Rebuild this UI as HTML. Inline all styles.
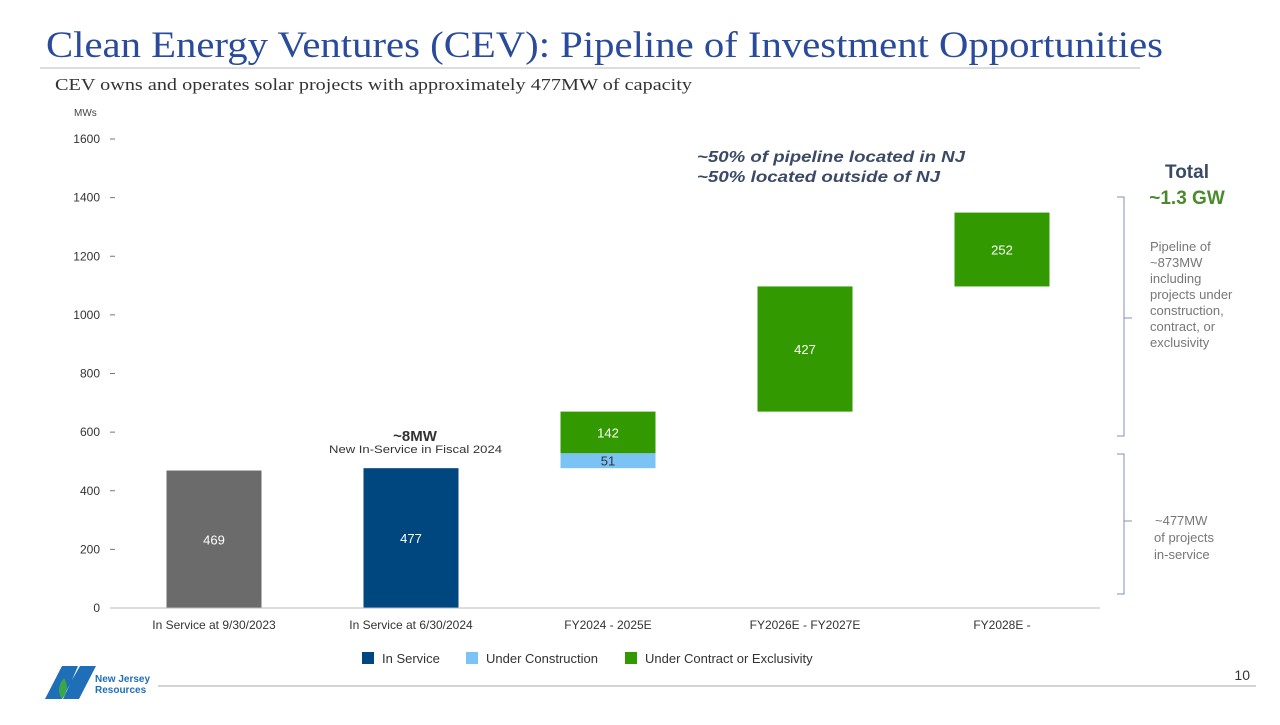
<!DOCTYPE html>
<html><head><meta charset="utf-8"><style>
body{margin:0;width:1280px;height:720px;background:#fff;overflow:hidden;font-family:"Liberation Sans",sans-serif}
</style></head><body>
<svg width="1280" height="720" xmlns="http://www.w3.org/2000/svg" id="svg">
<text x="46" y="57" font-family="Liberation Serif,serif" font-size="37" fill="#2A4B9B" textLength="1117" lengthAdjust="spacingAndGlyphs">Clean Energy Ventures (CEV): Pipeline of Investment Opportunities</text>
<line x1="40" y1="68" x2="1140" y2="68" stroke="#bbb" stroke-width="1"/>
<text x="55" y="90" font-family="Liberation Serif,serif" font-size="17" fill="#333" textLength="637" lengthAdjust="spacingAndGlyphs">CEV owns and operates solar projects with approximately 477MW of capacity</text>
<text x="74" y="116" font-size="10" fill="#444">MWs</text>
<g id="axis"></g>
<g id="bars"></g>
<line x1="110" y1="608" x2="1100" y2="608" stroke="#bbb"/>
<text x="415" y="441" font-size="15" font-weight="bold" fill="#333" text-anchor="middle">~8MW</text>
<text x="329" y="453" font-size="11" fill="#333" textLength="173" lengthAdjust="spacingAndGlyphs">New In-Service  in Fiscal 2024</text>
<text x="697" y="162" font-size="16" font-weight="bold" font-style="italic" fill="#3a4a66" textLength="268" lengthAdjust="spacingAndGlyphs">~50% of pipeline located in NJ</text>
<text x="697" y="182" font-size="16" font-weight="bold" font-style="italic" fill="#3a4a66" textLength="243" lengthAdjust="spacingAndGlyphs">~50% located outside of NJ</text>
<text x="1187" y="178" font-size="19" font-weight="bold" fill="#3a4a66" text-anchor="middle">Total</text>
<text x="1187" y="204" font-size="19" font-weight="bold" fill="#4b8a2c" text-anchor="middle">~1.3 GW</text>
<path d="M1117 197 H1124 V436 H1117 M1124 318 H1132" fill="none" stroke="#8090b8"/>
<path d="M1117 454 H1124 V594 H1117 M1124 521 H1132" fill="none" stroke="#8090b8"/>
<g font-size="13" fill="#777">
<text x="1150" y="251">Pipeline of</text><text x="1150" y="267">~873MW</text><text x="1150" y="283">including</text><text x="1150" y="299">projects under</text><text x="1150" y="315">construction,</text><text x="1150" y="331">contract, or</text><text x="1150" y="353" dy="-6">exclusivity</text></g>
<g font-size="13" fill="#777">
<text x="1155" y="525">~477MW</text><text x="1154" y="542">of projects</text><text x="1154" y="559">in-service</text></g>
<g font-size="13" fill="#333">
<rect x="362" y="652" width="12" height="12" fill="#00467F"/><text x="382" y="663">In Service</text>
<rect x="466" y="652" width="12" height="12" fill="#7CC3F5"/><text x="486" y="663">Under Construction</text>
<rect x="625" y="652" width="12" height="12" fill="#339900"/><text x="645" y="663">Under Contract or Exclusivity</text></g>
<line x1="158" y1="686" x2="1256" y2="686" stroke="#aaa"/>
<text x="1250" y="680" font-size="14" fill="#333" text-anchor="end">10</text>
<g>
<polygon points="45,699 62,666 78,666 72,680 80,666 96,666 79,699 63,699 70,684 62,699" fill="#1f6fb8"/>
<path d="M62 699 C56 690 60 683 64 678 C68 684 68 692 62 699Z" fill="#3aa64a"/>
<text x="95" y="682" font-size="10" font-weight="bold" fill="#1f6fb8">New Jersey</text>
<text x="95" y="693" font-size="10" font-weight="bold" fill="#1f6fb8">Resources</text></g>
</svg>
<script>
const categories=["In Service at 9/30/2023","In Service at 6/30/2024","FY2024 - 2025E","FY2026E - FY2027E","FY2028E -"];
const inService=[469,477,0,0,0];
const underConstruction=[0,0,51,0,0];
const underContract=[0,0,142,427,252];
const yTicks=[0,200,400,600,800,1000,1200,1400,1600];
const NS="http://www.w3.org/2000/svg";
const y=v=>608-v*(469/1600);
const x=i=>214+i*197;
const bw=95;
const ax=document.getElementById('axis'),bg=document.getElementById('bars');
function mk(tag,attrs,p){const e=document.createElementNS(NS,tag);for(const k in attrs)e.setAttribute(k,attrs[k]);p.appendChild(e);return e;}
yTicks.forEach(t=>{
 const tx=mk('text',{x:100,y:y(t)+4,'font-size':12,fill:'#333','text-anchor':'end'},ax);tx.textContent=t;
 
 
 const l=mk('line',{x1:110,x2:115,y1:y(t),y2:y(t),stroke:'#777'},ax);
 
 
});
let running=0;
categories.forEach((c,i)=>{
 const lb=mk('text',{x:x(i),y:629,'font-size':12,fill:'#333','text-anchor':'middle'},bg);lb.textContent=c;
 
 
 let base;
 if(inService[i]>0){base=0;running=inService[i];}else{base=running;}
 const segs=[[inService[i],'#00467F','#fff','bar-in-service'],[underConstruction[i],'#7CC3F5','#333','bar-under-construction'],[underContract[i],'#339900','#fff','bar-under-contract']];
 if(i===0){segs[0][1]='#6b6b6b';}
 segs.forEach(([v,col,tc,nm])=>{
  if(!v)return;
  const r=mk('rect',{x:x(i)-bw/2,y:y(base+v),width:bw,height:y(base)-y(base+v),fill:col},bg);
  
  
  const t=mk('text',{x:x(i),y:(y(base)+y(base+v))/2+5,'font-size':13,fill:tc,'text-anchor':'middle'},bg);t.textContent=v;
  
  
  base+=v;
 });
 if(i>0)running=base;
});
</script>
</body></html>
